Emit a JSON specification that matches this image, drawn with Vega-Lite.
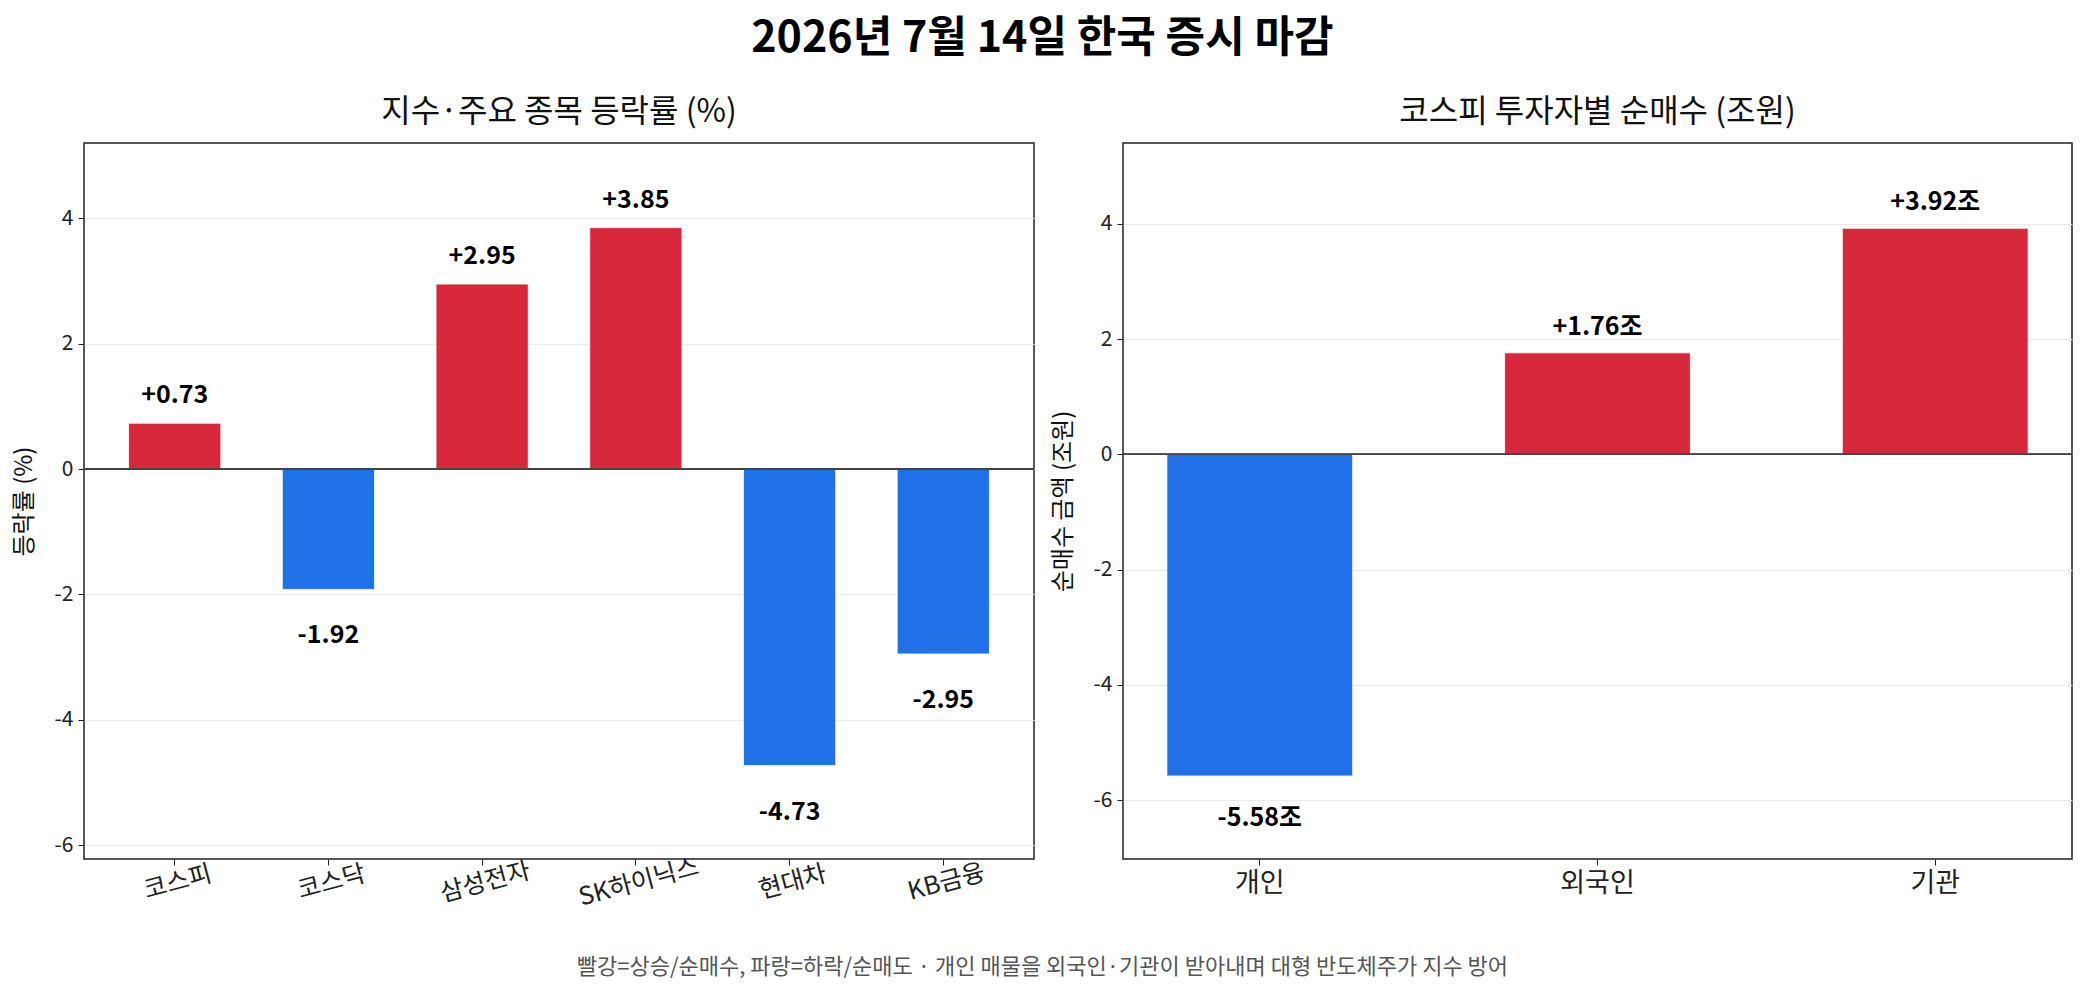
{
  "$schema": "https://vega.github.io/schema/vega-lite/v6.json",
  "background": "white",
  "padding": {"left": 11, "top": 18, "right": 14, "bottom": 10},
  "title": {
    "text": "2026년 7월 14일 한국 증시 마감",
    "fontSize": 43,
    "fontWeight": "bold",
    "color": "black",
    "anchor": "middle",
    "frame": "bounds",
    "offset": 34
  },
  "config": {
    "font": "Noto Sans CJK KR",
    "view": {"stroke": "#222222", "strokeWidth": 1.5},
    "title": {"fontSize": 32, "fontWeight": "normal", "color": "#111111", "offset": 14},
    "axis": {
      "domain": false,
      "tickColor": "#222222",
      "tickSize": 6,
      "labelColor": "#222222",
      "labelPadding": 5,
      "titleColor": "#111111",
      "titleFontWeight": "normal",
      "titleFontSize": 24,
      "labelFontSize": 21
    },
    "axisY": {"grid": true, "gridColor": "#ebebeb", "gridWidth": 1, "titlePadding": 18},
    "axisX": {"grid": false}
  },
  "vconcat": [
    {
      "title": {
        "text": "빨강=상승/순매수, 파랑=하락/순매도  ·  개인 매물을 외국인·기관이 받아내며 대형 반도체주가 지수 방어",
        "orient": "bottom",
        "frame": "bounds",
        "anchor": "middle",
        "fontSize": 22,
        "color": "#555555",
        "offset": 46
      },
      "bounds": "flush",
      "spacing": 89,
      "hconcat": [
        {
          "title": "지수·주요 종목 등락률 (%)",
          "width": 950,
          "height": 716,
          "data": {
            "values": [
              {"name": "코스피", "value": 0.73, "label": "+0.73"},
              {"name": "코스닥", "value": -1.92, "label": "-1.92"},
              {"name": "삼성전자", "value": 2.95, "label": "+2.95"},
              {"name": "SK하이닉스", "value": 3.85, "label": "+3.85"},
              {"name": "현대차", "value": -4.73, "label": "-4.73"},
              {"name": "KB금융", "value": -2.95, "label": "-2.95"}
            ]
          },
          "encoding": {
            "x": {
              "field": "name",
              "type": "nominal",
              "sort": null,
              "title": null,
              "scale": {"paddingInner": 0.4, "paddingOuter": 0.29},
              "axis": {"labelAngle": -15, "labelAlign": "center", "labelBaseline": "top", "labelFontSize": 25}
            },
            "y": {
              "field": "value",
              "type": "quantitative",
              "title": "등락률 (%)",
              "scale": {"domain": [-6.22, 5.2], "nice": false, "zero": false},
              "axis": {"values": [-6, -4, -2, 0, 2, 4], "labelExpr": "replace(datum.label, '−', '-')"}
            }
          },
          "layer": [
            {
              "mark": {"type": "bar", "stroke": "white", "strokeWidth": 0.8},
              "encoding": {
                "color": {"condition": {"test": "datum.value >= 0", "value": "#d7283b"}, "value": "#2070e8"}
              }
            },
            {
              "mark": {"type": "rule", "color": "#444444", "strokeWidth": 1.5},
              "encoding": {"y": {"datum": 0}, "x": null}
            },
            {
              "transform": [{"filter": "datum.value >= 0"}],
              "mark": {"type": "text", "fontWeight": "bold", "fontSize": 25, "baseline": "middle", "dy": -28, "color": "black"},
              "encoding": {"text": {"field": "label"}}
            },
            {
              "transform": [{"filter": "datum.value < 0"}],
              "mark": {"type": "text", "fontWeight": "bold", "fontSize": 25, "baseline": "middle", "dy": 46, "color": "black"},
              "encoding": {"text": {"field": "label"}}
            }
          ]
        },
        {
          "title": "코스피 투자자별 순매수 (조원)",
          "width": 949,
          "height": 716,
          "data": {
            "values": [
              {"name": "개인", "value": -5.58, "label": "-5.58조"},
              {"name": "외국인", "value": 1.76, "label": "+1.76조"},
              {"name": "기관", "value": 3.92, "label": "+3.92조"}
            ]
          },
          "encoding": {
            "x": {
              "field": "name",
              "type": "nominal",
              "sort": null,
              "title": null,
              "scale": {"paddingInner": 0.45, "paddingOuter": 0.13},
              "axis": {"labelAngle": 0, "labelFontSize": 27}
            },
            "y": {
              "field": "value",
              "type": "quantitative",
              "title": "순매수 금액 (조원)",
              "scale": {"domain": [-7.02, 5.4], "nice": false, "zero": false},
              "axis": {"values": [-6, -4, -2, 0, 2, 4], "labelExpr": "replace(datum.label, '−', '-')"}
            }
          },
          "layer": [
            {
              "mark": {"type": "bar", "stroke": "white", "strokeWidth": 0.8},
              "encoding": {
                "color": {"condition": {"test": "datum.value >= 0", "value": "#d7283b"}, "value": "#2070e8"}
              }
            },
            {
              "mark": {"type": "rule", "color": "#444444", "strokeWidth": 1.5},
              "encoding": {"y": {"datum": 0}, "x": null}
            },
            {
              "transform": [{"filter": "datum.value >= 0"}],
              "mark": {"type": "text", "fontWeight": "bold", "fontSize": 25, "baseline": "middle", "dy": -26, "color": "black"},
              "encoding": {"text": {"field": "label"}}
            },
            {
              "transform": [{"filter": "datum.value < 0"}],
              "mark": {"type": "text", "fontWeight": "bold", "fontSize": 25, "baseline": "middle", "dy": 42, "color": "black"},
              "encoding": {"text": {"field": "label"}}
            }
          ]
        }
      ]
    }
  ]
}
